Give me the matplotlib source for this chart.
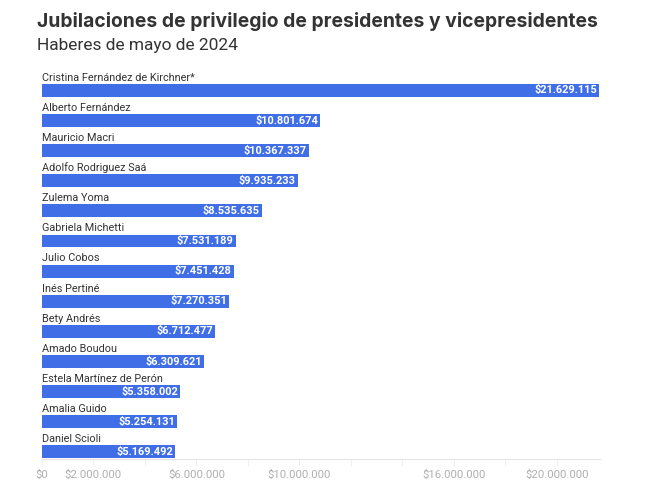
import matplotlib
matplotlib.use("Agg")
import matplotlib.pyplot as plt

plt.rcParams['font.family'] = ['Roboto', 'DejaVu Sans']

names = ["Cristina Fernández de Kirchner*", "Alberto Fernández", "Mauricio Macri",
         "Adolfo Rodriguez Saá", "Zulema Yoma", "Gabriela Michetti", "Julio Cobos",
         "Inés Pertiné", "Bety Andrés", "Amado Boudou", "Estela Martínez de Perón",
         "Amalia Guido", "Daniel Scioli"]
values = [21629115, 10801674, 10367337, 9935233, 8535635, 7531189, 7451428,
          7270351, 6712477, 6309621, 5358002, 5254131, 5169492]
tick_values = [0, 2e6, 4e6, 6e6, 8e6, 10e6, 12e6, 14e6, 16e6, 18e6, 20e6]
tick_labels = ["$0", "$2.000.000", "", "$6.000.000", "", "$10.000.000", "", "",
               "$16.000.000", "", "$20.000.000"]

def fmt(v):
    return "$" + f"{v:,}".replace(",", ".")

W, H = 655, 487
fig = plt.figure(figsize=(W / 100, H / 100), dpi=100)
ax = fig.add_axes([42 / W, 1 - 459 / H, (600 - 42) / W, (459 - 60) / H])

bar_color = "#3f6ee6"
ypos = list(range(len(names)))
ax.barh(ypos, values, height=0.43, color=bar_color)
ax.set_xlim(0, 21.67e6)
ax.set_ylim(12.24, -1.01)

for y, name, v in zip(ypos, names, values):
    ax.text(0, y - 0.32, name, ha="left", va="baseline", fontsize=7.8, color="#333333")
    ax.text(v - 0.08e6, y, fmt(v), ha="right", va="center", fontsize=7.9,
            color="white", fontweight="bold")

for s in ["top", "right", "left"]:
    ax.spines[s].set_visible(False)
ax.spines["bottom"].set_color("#e4e4e4")
ax.spines["bottom"].set_linewidth(0.8)
ax.set_yticks([])
ax.set_xticks(tick_values)
ax.set_xticklabels(tick_labels)
ax.tick_params(axis="x", length=5, width=0.6, color="#ececec", pad=3,
               labelsize=8.2, labelcolor="#b0b0b0")

fig.text(37 / W, 1 - 27 / H, "Jubilaciones de privilegio de presidentes y vicepresidentes",
         fontsize=13.9, fontweight="bold", color="#333333", va="baseline", ha="left",
         family=["Inter", "DejaVu Sans"])
fig.text(37 / W, 1 - 50 / H, "Haberes de mayo de 2024",
         fontsize=12.5, color="#333333", va="baseline", ha="left")

fig.savefig("out.png", dpi=100, facecolor="white")
